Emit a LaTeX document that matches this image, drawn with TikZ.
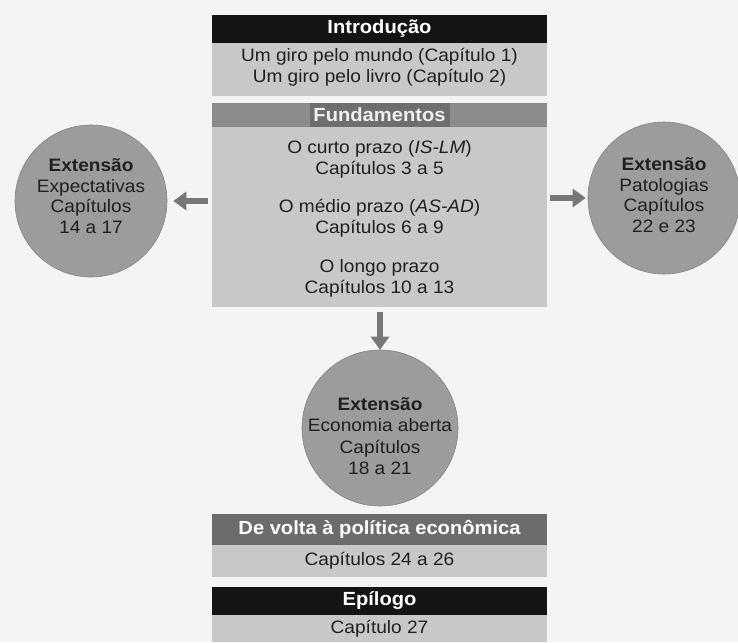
\documentclass[tikz,border=0pt]{standalone}
\usepackage{fontspec}
\setmainfont{Liberation Sans}[FakeStretch=1.06]
\usetikzlibrary{arrows.meta,calc}
\definecolor{bgc}{HTML}{F4F4F4}
\definecolor{bodyc}{HTML}{C8C8C8}
\definecolor{blackc}{HTML}{141414}
\definecolor{fundband}{HTML}{8C8C8C}
\definecolor{fundtitle}{HTML}{6E6E6E}
\definecolor{voltac}{HTML}{6C6C6C}
\definecolor{circc}{HTML}{9C9C9C}
\definecolor{arrowc}{HTML}{777777}
\definecolor{textc}{HTML}{202020}
\tikzset{
  band/.style={rectangle, inner sep=0pt, minimum width=335pt, draw=none},
  hdrtext/.style={font=\fontsize{19}{21}\selectfont\bfseries, text=white, inner sep=0pt},
  bodytext/.style={font=\fontsize{18}{21}\selectfont, text=textc, align=center, inner sep=0pt},
  extcircle/.style={circle, fill=circc, draw=circc!85!black, line width=0.6pt, minimum size=152pt, inner sep=0pt},
  circtext/.style={font=\fontsize{18}{20.5}\selectfont, text=textc, align=center, inner sep=0pt},
  bigarrow/.style={draw=arrowc, line width=6pt, -{Triangle[length=13pt,width=18pt]}}
}
\begin{document}
\begin{tikzpicture}[x=1pt,y=-1pt]
\fill[bgc] (0,0) rectangle (738,642);
\useasboundingbox (0,0) rectangle (738,642);

% Introducao
\node[band, fill=blackc, minimum height=28pt] (introh) at (379.5,29) {};
\node[hdrtext] (introt) at (introh.center) {Introdução};
\node[band, fill=bodyc, minimum height=53pt, anchor=north] (introb) at (introh.south) {};
\node[bodytext] (introl) at (379.5,67.5) {Um giro pelo mundo (Capítulo 1)\\Um giro pelo livro (Capítulo 2)};

% Fundamentos
\node[band, fill=fundband, minimum height=24pt] (fundh) at (379.5,115) {};
\node[rectangle, fill=fundtitle, minimum width=140pt, minimum height=24pt, inner sep=0pt] (fundtb) at (fundh.center) {};
\node[hdrtext, text=gray!12] (fundt) at (fundh.center) {Fundamentos};
\node[band, fill=bodyc, minimum height=180pt, anchor=north] (fundb) at (fundh.south) {};
\node[bodytext] (f1) at (379.5,159) {O curto prazo (\textit{IS-LM})\\Capítulos 3 a 5};
\node[bodytext] (f2) at (379.5,218) {O médio prazo (\textit{AS-AD})\\Capítulos 6 a 9};
\node[bodytext] (f3) at (379.5,278) {O longo prazo\\Capítulos 10 a 13};

% Extension circles
\node[extcircle] (cl) at (91,201) {};
\node[circtext] (clt) at ([yshift=5pt]cl.center) {\textbf{Extensão}\\Expectativas\\Capítulos\\14 a 17};
\node[extcircle] (cr) at (664,198) {};
\node[circtext] (crt) at ([yshift=3pt]cr.center) {\textbf{Extensão}\\Patologias\\Capítulos\\22 e 23};
\node[extcircle, minimum size=156pt] (cb) at (380,428) {};
\node[circtext, font=\fontsize{18}{21.5}\selectfont] (cbt) at ([yshift=-8pt]cb.center) {\textbf{Extensão}\\Economia aberta\\Capítulos\\18 a 21};

% Arrows
\draw[bigarrow] ([xshift=-4pt]fundb.west |- cl.east) -- ([xshift=6pt]cl.east);
\draw[bigarrow] ([xshift=3pt]fundb.east |- cr.west) -- ([xshift=-2pt]cr.west);
\draw[bigarrow] ([yshift=-4pt]fundb.south -| cb.north) -- (cb.north);

% De volta
\node[band, fill=voltac, minimum height=31pt] (volh) at (379.5,529) {};
\node[hdrtext] (volt) at (volh.center) {De volta à política econômica};
\node[band, fill=bodyc, minimum height=32pt, anchor=north] (volb) at (volh.south) {};
\node[bodytext] (voll) at (volb.center) {Capítulos 24 a 26};

% Epilogo
\node[band, fill=blackc, minimum height=28pt] (epih) at (379.5,601) {};
\node[hdrtext] (epit) at (epih.center) {Epílogo};
\node[band, fill=bodyc, minimum height=27pt, anchor=north] (epib) at (epih.south) {};
\node[bodytext] (epil) at (epib.center) {Capítulo 27};
\end{tikzpicture}
\end{document}
